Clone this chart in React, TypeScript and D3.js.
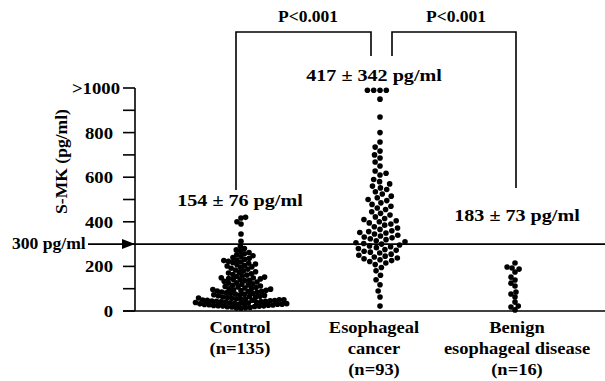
import React from "react";
import * as d3 from "d3";

const groups = ["Control", "Esophageal cancer", "Benign esophageal disease"];
const groupLines = [["Control", "(n=135)"], ["Esophageal", "cancer", "(n=93)"], ["Benign", "esophageal disease", "(n=16)"]];
const statLabels = ["154 ± 76 pg/ml", "417 ± 342 pg/ml", "183 ± 73 pg/ml"];
const pLabels = ["P<0.001", "P<0.001"];
const majorTicks = [0, 200, 400, 600, 800, 1000];
const minorTicks = [100, 500, 700, 900];
const tickLabels = ["0", "200", "400", "600", "800", ">1000"];
const cutoff = 300;
const cutoffLabel = "300 pg/ml";
const yTitle = "S-MK (pg/ml)";

const controlValues = [
  12, 14, 15, 16, 18, 19, 20, 21, 22, 23, 24, 25, 26, 27, 28, 29, 30, 30, 31, 32,
  33, 34, 35, 36, 37, 38, 39, 40, 41, 42, 43, 44, 45, 46, 47, 48, 48, 49, 50, 50,
  52, 54, 55, 57, 58, 60, 62, 63, 65, 66, 68, 70, 72, 73, 75, 76, 78, 80, 82, 84,
  85, 87, 88, 90, 92, 93, 95, 96, 98, 99,
  101, 103, 105, 108, 110, 112, 115, 117, 120, 122, 125, 127, 130, 133, 136, 138, 140, 142, 144, 146, 148, 149,
  152, 155, 158, 161, 164, 167, 170, 173, 176, 180, 184, 188, 192, 195, 198,
  202, 205, 208, 211, 214, 217, 220, 223, 226, 229, 232, 236, 240, 244, 248, 252, 257, 262, 268, 274, 280, 290,
  313, 345, 390, 400, 417, 420,
];
const cancerValues = [
  990, 990, 990, 990, 950, 870, 800, 758, 735, 717, 700, 686, 668, 650, 628, 618, 610,
  590, 580, 570, 560, 552,
  545, 535, 525, 515, 508, 500,
  495, 485, 478, 470, 462, 455,
  445, 438, 430, 422, 415, 410, 405, 400,
  395, 390, 385, 378, 372, 366, 360, 356, 352, 350,
  345, 340, 336, 332, 328, 324, 320, 315, 310, 306, 303, 300,
  296, 292, 288, 284, 280, 276, 272, 268, 264, 260, 255, 250,
  246, 242, 238, 234, 230, 226, 222, 215, 208,
  195, 180, 160, 140, 118,
  90, 63, 22,
];
const benignValues = [215, 197, 193, 188, 175, 152, 139, 125, 112, 85, 76, 63, 40, 22, 18, 5];
const groupValues = [controlValues, cancerValues, benignValues];

const W = 605;
const H = 381;
const axisX = 135;
const font = "'Liberation Serif', 'Times New Roman', serif";

const y = d3.scaleLinear().domain([0, 1000]).range([311, 88]);
const x = d3.scaleOrdinal<string, number>().domain(groups).range([241, 380, 515]);
const labelX = d3.scaleOrdinal<string, number>().domain(groups).range([240, 374, 517]);
const spacing = [4.6, 6.3, 5.0];

function swarm(values: number[], cx: number, d: number) {
  const pts = values.map((v) => ({ v, y: y(v), x: cx })).sort((a, b) => b.y - a.y);
  const placed: { x: number; y: number }[] = [];
  for (const p of pts) {
    const intervals: [number, number][] = [];
    for (const q of placed) {
      const dy = Math.abs(q.y - p.y);
      if (dy < d) {
        const w = Math.sqrt(d * d - dy * dy);
        intervals.push([q.x - w, q.x + w]);
      }
    }
    const cands = [cx];
    intervals.forEach(([a, b]) => cands.push(a, b));
    cands.sort((a, b) => Math.abs(a - cx) - Math.abs(b - cx));
    let best = cx;
    for (const c of cands) {
      if (!intervals.some(([a, b]) => c > a + 1e-6 && c < b - 1e-6)) {
        best = c;
        break;
      }
    }
    p.x = best;
    placed.push(p);
  }
  return pts;
}

function T({ x, y, size = 16.5, sx = 1.1, anchor = "middle", rotate = 0, children }: any) {
  return (
    <text
      transform={`translate(${x},${y}) rotate(${rotate}) scale(${sx},1)`}
      fontSize={size}
      fontWeight="bold"
      fontFamily={font}
      textAnchor={anchor}
      fill="#000"
    >
      {children}
    </text>
  );
}

export default function App() {
  const swarms = groupValues.map((vals, i) => swarm(vals, x(groups[i]), spacing[i]));
  const yCut = y(cutoff);
  const yTop = y(1000);
  const y0 = y(0);
  const bracketTop = 32;
  return (
    <svg width={W} height={H} style={{ position: "absolute", left: 0, top: 0, background: "#fff" }}>
      <rect width={W} height={H} fill="#fff" />
      {/* axis */}
      <line x1={axisX} x2={axisX} y1={yTop} y2={y0} stroke="#000" strokeWidth={1.6} />
      <line x1={axisX - 12} x2={W} y1={y0} y2={y0} stroke="#000" strokeWidth={1.6} />
      {majorTicks.concat(minorTicks).map((t) => (
        <line key={"t" + t} x1={axisX - 12} x2={axisX} y1={y(t)} y2={y(t)} stroke="#000" strokeWidth={1.6} />
      ))}
      {majorTicks.map((t, i) => (
        <T key={"l" + t} x={t === 1000 ? 120 : 113} y={y(t) + 6} anchor="end" size={17}>
          {tickLabels[i]}
        </T>
      ))}
      <T x={67} y={(108 + 215) / 2} rotate={-90} size={16} sx={1.1}>
        {yTitle}
      </T>
      {/* cutoff */}
      <T x={12} y={yCut + 5} anchor="start" size={16} sx={1.1}>
        {cutoffLabel}
      </T>
      <line x1={88} x2={W} y1={yCut} y2={yCut} stroke="#000" strokeWidth={1.6} />
      <path d={`M${axisX},${yCut} L${axisX - 13},${yCut - 5} L${axisX - 13},${yCut + 5} Z`} fill="#000" />
      {/* dots */}
      {swarms.map((pts, gi) =>
        pts.map((p, i) => <circle key={gi + "-" + i} cx={p.x} cy={p.y} r={2.8} fill="#000" />)
      )}
      {/* stats */}
      <T x={240} y={206} size={17.5} sx={1.15}>{statLabels[0]}</T>
      <T x={374} y={81} size={17.5} sx={1.15}>{statLabels[1]}</T>
      <T x={517} y={221} size={17.5} sx={1.15}>{statLabels[2]}</T>
      {/* brackets */}
      <path d={`M236,190 L236,${bracketTop} L371,${bracketTop} L371,56`} fill="none" stroke="#000" strokeWidth={1.6} />
      <path d={`M392,56 L392,${bracketTop} L516,${bracketTop} L516,188`} fill="none" stroke="#000" strokeWidth={1.6} />
      <T x={308} y={22} size={17} sx={1.03}>{pLabels[0]}</T>
      <T x={456} y={22} size={17} sx={1.03}>{pLabels[1]}</T>
      {/* category labels */}
      {groupLines.map((lines, gi) =>
        lines.map((ln, li) => (
          <T key={gi + "c" + li} x={labelX(groups[gi])} y={333 + li * 21} size={16.5} sx={1.12}>
            {ln}
          </T>
        ))
      )}
    </svg>
  );
}
